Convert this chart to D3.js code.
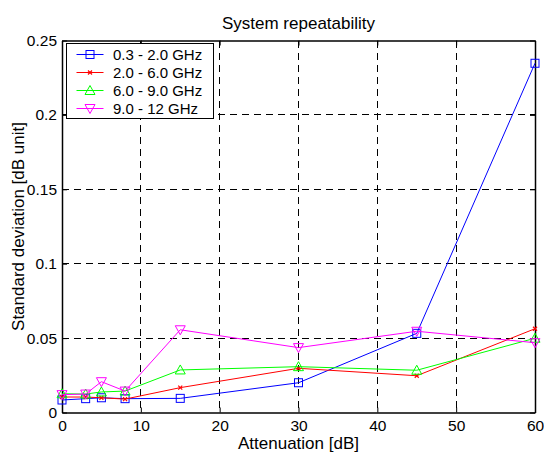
<!DOCTYPE html>
<html>
<head>
<meta charset="utf-8">
<script src="https://cdn.jsdelivr.net/npm/d3@7"></script>
<style>
  body { margin: 0; background: #fff; }
  text { font-family: "Liberation Sans", Arial, sans-serif; fill: #000; }
</style>
</head>
<body>
<div id="chart"></div>
<script>
// attenuation steps (dB)
var attenuation = [0, 3, 5, 8, 15, 30, 45, 60]

var band1 = [0.0084, 0.0093, 0.0099, 0.0093, 0.0095, 0.0200, 0.0532, 0.2347]
var band2 = [0.0104, 0.0104, 0.0099, 0.0090, 0.0167, 0.0297, 0.0247, 0.0563]
var band3 = [0.0126, 0.0124, 0.0138, 0.0144, 0.0286, 0.0308, 0.0284, 0.0499]
var band4 = [0.0120, 0.0124, 0.0207, 0.0144, 0.0556, 0.0436, 0.0546, 0.0469]

var seriesNames = ['0.3 - 2.0 GHz', '2.0 - 6.0 GHz', '6.0 - 9.0 GHz', '9.0 - 12 GHz']
var xTicks = [0, 10, 20, 30, 40, 50, 60]
var yTicks = [0, 0.05, 0.1, 0.15, 0.2, 0.25]

var series = [
  {name: seriesNames[0], values: band1, color: '#0000ff', marker: 'square'},
  {name: seriesNames[1], values: band2, color: '#ff0000', marker: 'x'},
  {name: seriesNames[2], values: band3, color: '#00ff00', marker: 'up'},
  {name: seriesNames[3], values: band4, color: '#ff00ff', marker: 'down'}
]

var margin = {left: 62, right: 9, top: 40.5, bottom: 39.5}
var totalW = 544, totalH = 452
var width = totalW - margin.left - margin.right
var height = totalH - margin.top - margin.bottom

var svg = d3.select('#chart').append('svg')
  .attr('width', totalW).attr('height', totalH)

var g = svg.append('g').attr('transform', 'translate(' + margin.left + ',' + margin.top + ')')

var x = d3.scaleLinear().domain([0, 60]).range([0, width])
var y = d3.scaleLinear().domain([0, 0.25]).range([height, 0])

// grid
g.selectAll('.vgrid').data(xTicks.slice(1, -1)).enter().append('line')
  .attr('x1', function(d){ return x(d) }).attr('x2', function(d){ return x(d) })
  .attr('y1', 0).attr('y2', height)
  .attr('stroke', '#000').attr('stroke-width', 1).attr('stroke-dasharray', '7,5')
  .attr('shape-rendering', 'crispEdges')

g.selectAll('.hgrid').data(yTicks.slice(1, -1)).enter().append('line')
  .attr('y1', function(d){ return y(d) }).attr('y2', function(d){ return y(d) })
  .attr('x1', 0).attr('x2', width)
  .attr('stroke', '#000').attr('stroke-width', 1).attr('stroke-dasharray', '7,5')
  .attr('shape-rendering', 'crispEdges')

// axes (ticks inside, matlab style)
g.append('g').attr('transform', 'translate(0,' + height + ')')
  .call(d3.axisBottom(x).tickValues(xTicks).tickSizeInner(-5).tickSizeOuter(0).tickPadding(7))
g.append('g')
  .call(d3.axisLeft(y).tickValues(yTicks).tickSizeInner(-5).tickSizeOuter(0).tickPadding(5)
    .tickFormat(function(d){ return d === 0 ? '0' : String(d) }))
g.append('g')
  .call(d3.axisTop(x).tickValues(xTicks).tickSizeInner(-5).tickSizeOuter(0).tickFormat(''))
g.append('g').attr('transform', 'translate(' + width + ',0)')
  .call(d3.axisRight(y).tickValues(yTicks).tickSizeInner(-5).tickSizeOuter(0).tickFormat(''))

g.selectAll('.domain').attr('stroke', '#000').attr('stroke-width', 1.5)
g.selectAll('.tick line').attr('stroke', '#000')
g.selectAll('.tick text').style('font-size', '15.5px').style('font-family', '"Liberation Sans", Arial, sans-serif')

// lines
var line = d3.line()
  .x(function(d, i){ return x(attenuation[i]) })
  .y(function(d){ return y(d) })

function drawMarker(sel, type, color, cx, cy) {
  if (type === 'square') {
    sel.append('rect').attr('x', cx - 4).attr('y', cy - 4).attr('width', 8).attr('height', 8)
      .attr('fill', 'none').attr('stroke', color).attr('stroke-width', 1)
  } else if (type === 'x') {
    sel.append('path').attr('d', 'M' + (cx-2) + ',' + (cy-2) + 'L' + (cx+2) + ',' + (cy+2) + 'M' + (cx-2) + ',' + (cy+2) + 'L' + (cx+2) + ',' + (cy-2))
      .attr('stroke', color).attr('stroke-width', 1.2).attr('fill', 'none')
  } else if (type === 'up') {
    sel.append('path').attr('d', 'M' + cx + ',' + (cy-5) + 'L' + (cx+5) + ',' + (cy+4) + 'L' + (cx-5) + ',' + (cy+4) + 'Z')
      .attr('fill', 'none').attr('stroke', color).attr('stroke-width', 1)
  } else {
    sel.append('path').attr('d', 'M' + cx + ',' + (cy+5) + 'L' + (cx+5) + ',' + (cy-4) + 'L' + (cx-5) + ',' + (cy-4) + 'Z')
      .attr('fill', 'none').attr('stroke', color).attr('stroke-width', 1)
  }
}

series.forEach(function(s){
  g.append('path').attr('d', line(s.values))
    .attr('fill', 'none').attr('stroke', s.color).attr('stroke-width', 1)
  var mg = g.append('g')
  s.values.forEach(function(v, i){
    drawMarker(mg, s.marker, s.color, x(attenuation[i]), y(v))
  })
})

// legend
var lg = svg.append('g').attr('transform', 'translate(66.5,43.5)')
lg.append('rect').attr('width', 147).attr('height', 75)
  .attr('fill', '#fff').attr('stroke', '#000').attr('stroke-width', 1)
series.forEach(function(s, i){
  var ly = 11 + i * 18
  lg.append('line').attr('x1', 10).attr('x2', 37).attr('y1', ly).attr('y2', ly)
    .attr('stroke', s.color).attr('stroke-width', 1)
  drawMarker(lg, s.marker, s.color, 23.5, ly)
  lg.append('text').attr('x', 46.5).attr('y', ly + 5.5)
    .style('font-size', '15px').text(s.name)
})

// titles
svg.append('text').attr('x', margin.left + width / 2).attr('y', 28.5)
  .attr('text-anchor', 'middle').style('font-size', '17px').text('System repeatability')
svg.append('text').attr('x', margin.left + width / 2).attr('y', 448.5)
  .attr('text-anchor', 'middle').style('font-size', '17px').text('Attenuation [dB]')
svg.append('text')
  .attr('transform', 'translate(24,' + (margin.top + height / 2) + ') rotate(-90)')
  .attr('text-anchor', 'middle').style('font-size', '17px').text('Standard deviation [dB unit]')
</script>
</body>
</html>
